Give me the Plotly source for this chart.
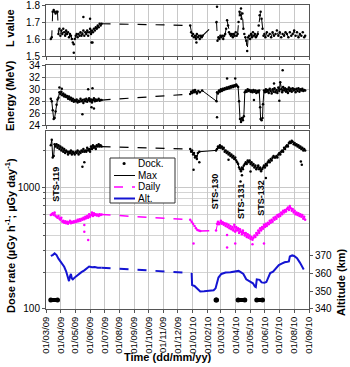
import pandas as pd
import plotly.graph_objects as go

BASE = pd.Timestamp("2009-03-01")

# ---- tick labels (x axis, monthly) ----
MONTH_LABELS = ["01/03/09", "01/04/09", "01/05/09", "01/06/09", "01/07/09", "01/08/09",
                "01/09/09", "01/10/09", "01/11/09", "01/12/09", "01/01/10", "01/02/10",
                "01/03/10", "01/04/10", "01/05/10", "01/06/10", "01/07/10", "01/08/10",
                "01/09/10"]
L_TICKS = [1.5, 1.6, 1.7, 1.8]
E_TICKS = [24, 26, 28, 30, 32, 34]
DOSE_TICKS = [100, 1000]
ALT_TICKS = [340, 350, 360, 370]

# ---- L value (day offset from 01/03/09, value) ----
L_A = [(10,1.60),(12,1.61),(14,1.76),(16,1.77),(18,1.76),(20,1.75),(22,1.76),(24,1.76),(26,1.63),
       (28,1.66),(30,1.62),(32,1.65),(34,1.63),(36,1.66),(38,1.64),(40,1.62),(42,1.65),(44,1.63),
       (46,1.64),(48,1.61),(50,1.63),(52,1.62),(54,1.60),(56,1.58),(58,1.57),(60,1.60),(62,1.62),
       (64,1.63),(66,1.61),(68,1.63),(70,1.62),(72,1.64),(74,1.62),(76,1.63),(78,1.65),(80,1.62),
       (82,1.64),(84,1.63),(86,1.65),(88,1.62),(90,1.64),(92,1.66),(94,1.63),(96,1.65),(98,1.64),
       (100,1.66),(102,1.65),(104,1.67),(106,1.66),(108,1.68),(110,1.67),(112,1.69),(114,1.68),(116,1.69)]
L_B = [(301,1.68),(303,1.64),(305,1.62),(307,1.63),(309,1.61),(311,1.62),(313,1.60),(315,1.63),
       (317,1.61),(319,1.62),(321,1.60),(323,1.62),(325,1.61),(327,1.62)]
L_C = [(356,1.70),(358,1.59),(360,1.61),(362,1.60),(364,1.62),(366,1.61),(368,1.62),(370,1.60),
       (372,1.62),(374,1.63),(376,1.66),(378,1.71),(380,1.68),(382,1.64),(384,1.63),(386,1.62),
       (388,1.63),(390,1.61),(392,1.63),(394,1.62),(396,1.64),(398,1.62),(400,1.63),(402,1.70),
       (404,1.76),(406,1.74),(407,1.78),(408,1.72),(410,1.75),(412,1.66),(414,1.63),(416,1.61),
       (418,1.59),(420,1.53),(422,1.61),(424,1.62),(426,1.60),(428,1.63),(430,1.61),(432,1.64),
       (434,1.62),(436,1.63),(438,1.61),(440,1.62),(442,1.63),(444,1.68),(446,1.74),(448,1.76),
       (450,1.72),(452,1.66),(454,1.62),(456,1.63),(458,1.61),(461,1.64),(464,1.62),(467,1.63),
       (470,1.61),(473,1.64),(476,1.62),(479,1.63),(482,1.65),(485,1.62),(488,1.64),(491,1.61),
       (494,1.63),(497,1.62),(500,1.64),(503,1.63),(506,1.61),(509,1.64),(512,1.62),(515,1.63),
       (518,1.65),(521,1.62),(524,1.64),(527,1.61),(530,1.63),(533,1.62),(536,1.64),(539,1.61),(541,1.62)]
L_OUT = [(58,1.52),(78,1.73),(92,1.72),(95,1.58),(97,1.58),(357,1.79),(314,1.58)]

# ---- Energy (MeV) ----
E_A = [(10,28.4),(12,28.0),(14,26.5),(16,25.0),(18,25.2),(20,26.3),(22,27.4),(24,28.3),(26,28.6),
       (28,29.5),(30,29.2),(32,29.6),(34,29.0),(36,29.3),(38,28.8),(40,29.1),(42,28.7),(44,28.9),
       (46,28.4),(48,28.8),(50,28.3),(52,28.6),(54,28.1),(56,28.4),(58,27.9),(60,28.2),(62,28.0),
       (64,28.3),(66,27.8),(68,28.1),(70,27.9),(72,28.4),(74,28.0),(76,28.2),(78,27.7),(80,28.3),
       (82,28.0),(84,28.4),(86,27.9),(88,28.2),(90,28.5),(92,28.0),(94,28.3),(96,27.8),(98,28.2),
       (100,28.5),(102,28.0),(104,28.3),(106,28.1),(108,28.2),(110,28.4),(112,28.1),(114,28.2),(116,28.2)]
E_BC = [(301,29.2),(303,29.6),(305,29.4),(307,29.8),(309,29.5),(311,29.9),(313,29.6),(315,29.3),
        (318,29.7),(321,29.5),(326,29.8),(356,28.0),
        (357,29.5),(359,29.3),(361,29.8),(363,29.6),(365,30.0),(367,29.7),(369,30.1),(371,29.9),
        (373,30.2),(375,30.0),(377,30.3),(379,30.1),(381,30.4),(383,30.2),(385,30.5),(387,30.3),
        (389,30.6),(391,30.4),(393,30.7),(395,30.5),(397,30.8),(399,30.6),(401,30.4),(403,28.0),
        (405,25.0),(407,24.5),(409,25.2),(411,24.8),(413,25.5),(415,29.5),(417,29.8),(419,29.6),
        (421,30.0),(423,29.7),(425,29.9),(427,29.6),(429,29.8),(431,29.5),(433,29.9),(435,29.6),
        (437,29.8),(439,29.4),(441,29.7),(443,29.5),(445,29.8),(447,27.0),(448,25.0),(450,24.8),
        (452,25.2),(453,27.5),(455,29.8),(457,29.5),(459,30.0),(461,29.6),(463,29.9),(465,29.4),
        (467,30.1),(469,29.7),(471,29.3),(473,30.0),(475,29.6),(477,30.2),(479,29.5),(481,29.9),
        (483,29.4),(485,30.3),(487,29.7),(489,31.2),(491,30.0),(493,29.5),(495,30.4),(497,29.8),
        (499,30.2),(501,29.6),(503,30.0),(505,29.4),(507,30.3),(509,29.7),(511,30.1),(513,29.6),
        (515,30.2),(517,29.8),(519,30.0),(521,29.5),(523,30.1),(525,29.7),(527,30.2),(529,29.6),
        (531,30.0),(533,29.8),(535,30.1),(537,29.7),(539,29.9),(541,29.8)]
E_OUT = [(28,30.3),(33,30.1),(76,25.8),(88,30.0),(97,30.2),(95,27.0),(100,26.8),(357,25.3),
         (378,31.8),(395,31.8),(434,28.2),(476,31.0),(487,28.1),(494,33.2)]

# ---- Dose rate: Max (uGy/h) ----
MAX_A = [(10,2200),(12,2450),(14,1750),(16,1800),(18,2250),(20,2150),(22,2250),(24,2100),(26,2200),
         (28,2050),(30,2150),(32,2000),(34,2100),(36,1950),(38,2050),(40,1900),(42,2000),(44,1950),
         (46,1850),(48,1950),(50,1900),(52,2000),(54,1850),(56,1950),(58,1900),(60,1850),(62,1950),
         (64,1900),(66,2000),(68,1850),(70,1950),(72,1900),(74,2000),(76,1950),(78,2050),(80,1950),
         (82,2000),(84,1950),(86,2100),(88,2000),(90,2050),(92,1950),(94,2150),(96,2050),(98,2200),
         (100,2100),(102,2150),(104,2050),(106,2200),(108,2150),(110,2250),(112,2150),(114,2200),(116,2150)]
MAX_BC = [(301,2050),(303,1950),(305,2000),(307,1850),(309,1900),(311,1750),(313,1800),(315,1700),
          (317,1900),(320,1950),(355,2000),
          (357,2050),(359,2150),(361,2100),(363,2200),(365,2100),(367,2150),(369,2050),(371,2100),
          (373,1950),(375,2000),(377,1900),(379,1950),(381,1850),(383,1900),(385,1800),(387,1850),
          (389,1750),(391,1800),(393,1700),(395,1750),(397,1650),(399,1600),(401,1550),(403,1450),
          (405,1400),(407,1350),(409,1450),(411,1400),(413,1500),(415,1550),(417,1600),(419,1550),
          (421,1650),(423,1600),(425,1650),(427,1550),(429,1600),(431,1500),(433,1550),(435,1450),
          (437,1500),(439,1400),(441,1450),(443,1500),(445,1400),(447,1450),(449,1350),(451,1400),
          (453,1450),(455,1500),(457,1450),(459,1550),(461,1500),(463,1600),(465,1650),(467,1600),
          (469,1700),(471,1650),(473,1750),(475,1800),(477,1750),(479,1750),(481,1800),(483,1750),
          (485,1850),(487,1900),(489,1850),(491,1950),(493,2000),(495,1950),(497,2100),(499,2050),
          (501,2150),(503,2200),(505,2150),(507,2300),(509,2350),(511,2300),(513,2400),(515,2350),
          (517,2250),(519,2300),(521,2200),(523,2250),(525,2150),(527,2200),(529,2100),(531,2150),
          (533,2050),(535,2100),(537,2000),(539,2050),(541,2000)]
MAX_OUT = [(76,1470),(80,1600),(308,1386),(381,1675),(406,1110),(409,1250),(427,1345),(459,1185),
           (532,1623),(534,1524),(320,1600)]

# ---- Dose rate: Daily (uGy/day) ----
DAILY_A = [(10,590),(12,600),(14,610),(16,590),(18,620),(20,580),(22,570),(24,560),(26,580),(28,550),
           (30,540),(32,560),(34,520),(36,530),(38,510),(40,525),(42,505),(44,520),(46,500),(48,515),
           (50,530),(52,505),(54,520),(56,510),(58,525),(60,515),(62,530),(64,520),(66,540),(68,525),
           (70,545),(72,530),(74,550),(76,540),(78,560),(80,545),(82,570),(84,555),(86,580),(88,560),
           (90,600),(92,570),(94,590),(96,620),(98,580),(100,610),(102,590),(104,600),(106,585),
           (108,595),(110,580),(112,600),(114,590),(116,595)]
DAILY_B = [(301,540),(304,520),(307,500),(310,480),(313,460),(316,445),(319,440),(322,436)]
DAILY_C = [(355,440),(357,500),(359,520),(361,495),(363,510),(365,530),(367,500),(369,515),(371,490),
           (373,505),(375,480),(377,500),(379,470),(381,490),(383,460),(385,480),(387,450),(389,470),
           (391,440),(393,490),(395,430),(397,470),(399,440),(401,460),(403,420),(405,450),(407,430),
           (409,410),(411,440),(413,420),(415,400),(417,420),(419,390),(421,410),(423,385),(425,400),
           (427,375),(429,390),(431,370),(433,385),(435,400),(437,390),(439,420),(441,405),(443,440),
           (445,420),(447,460),(449,440),(451,470),(453,455),(455,490),(457,470),(459,500),(461,480),
           (463,510),(465,495),(467,530),(469,510),(471,540),(473,520),(475,560),(477,540),(479,570),
           (481,550),(483,590),(485,570),(487,600),(489,580),(491,620),(493,600),(495,640),(497,620),
           (499,650),(501,630),(503,660),(505,680),(507,650),(509,700),(511,670),(513,640),(515,660),
           (517,620),(519,640),(521,600),(523,620),(525,590),(527,610),(529,580),(531,600),(533,570),
           (535,590),(537,550),(539,570),(541,540)]
DAILY_OUT = [(80,488),(80,430),(88,368),(308,345),(378,404),(378,320),(395,345),(410,430),(431,340),(455,345)]

# ---- Altitude (km) ----
ALT_A = [(10,369.5),(14,370),(18,371),(22,370),(26,368),(30,366.5),(34,365),(38,363.5),(42,361),
         (46,357.5),(48,355.5),(50,358),(52,359.5),(54,357),(56,356.5),(62,358),(68,359.5),(74,360.5),
         (80,361.5),(86,362.8),(90,363.6),(96,363.2),(102,363.4),(108,363),(116,363)]
ALT_BC = [(304,360),(305,353.3),(310,352.8),(316,351.5),(322,349.8),(330,349.9),(340,350.1),(350,350.4),
          (354,351.5),(357,355),(360,357.5),(366,359.5),(375,360.3),(385,360.5),(395,360.8),(402,361.2),
          (408,360.2),(412,359.5),(418,356.5),(426,355.5),(432,354.3),(436,352.5),(438,352.2),(440,356.5),
          (446,356.2),(450,354.8),(456,354.6),(460,355),(464,357.5),(468,360),(474,360.8),(480,362.5),
          (486,364.4),(492,365.2),(498,366),(504,366.3),(507,366.5),(509,369.2),(514,369.8),(518,369.5),
          (524,368.2),(530,365.8),(535,363.5),(538,362)]

# ---- Docking periods (start day, end day) and marker altitude ----
DOCK = [(10, 24), (355, 356), (401, 415), (440, 452)]
DOCK_ALT = 345

# ---- Shuttle mission labels (text, day, log10 dose) ----
STS = [("STS-119", 21, 3.02), ("STS-130", 353, 2.967), ("STS-131", 407, 2.885), ("STS-132", 448, 2.91)]


def d2t(days):
    return [None if d is None else BASE + pd.Timedelta(days=d) for d in days]


def join(regions):
    xs, ys = [], []
    for i, r in enumerate(regions):
        if i:
            xs.append(None); ys.append(None)
        xs += [p[0] for p in r]; ys += [p[1] for p in r]
    return d2t(xs), ys


def gaps(regions):
    xs, ys = [], []
    for a, b in zip(regions[:-1], regions[1:]):
        if xs:
            xs.append(None); ys.append(None)
        xs += [a[-1][0], b[0][0]]; ys += [a[-1][1], b[0][1]]
    return d2t(xs), ys


FONT = "Liberation Sans, Arial, sans-serif"
MAG = "#ff00ff"
BLUE = "#1414d2"

fig = go.Figure()

def add(x, y, xa, ya, **kw):
    fig.add_trace(go.Scatter(x=x, y=y, xaxis=xa, yaxis=ya, showlegend=False, hoverinfo="skip", **kw))

# L value panel
x, y = join([L_A, L_B, L_C])
add(x, y, "x", "y", mode="lines+markers", line=dict(color="black", width=1, dash="dash"),
    marker=dict(size=2.5, color="black"))
x, y = gaps([L_A, L_B, L_C])
add(x, y, "x", "y", mode="lines", line=dict(color="black", width=1.2, dash="dash"))
add(d2t([p[0] for p in L_OUT]), [p[1] for p in L_OUT], "x", "y", mode="markers",
    marker=dict(size=2.5, color="black"))

# Energy panel
x, y = join([E_A, E_BC])
add(x, y, "x2", "y2", mode="lines+markers", line=dict(color="black", width=1),
    marker=dict(size=2.5, color="black"))
x, y = gaps([E_A, E_BC])
add(x, y, "x2", "y2", mode="lines", line=dict(color="black", width=1.2, dash="dash"))
add(d2t([p[0] for p in E_OUT]), [p[1] for p in E_OUT], "x2", "y2", mode="markers",
    marker=dict(size=2.5, color="black"))

# Dose panel: Max
x, y = join([MAX_A, MAX_BC])
add(x, y, "x3", "y3", mode="lines+markers", line=dict(color="black", width=1),
    marker=dict(size=2.5, color="black"))
x, y = gaps([MAX_A, MAX_BC])
add(x, y, "x3", "y3", mode="lines", line=dict(color="black", width=1.2, dash="dash"))
add(d2t([p[0] for p in MAX_OUT]), [p[1] for p in MAX_OUT], "x3", "y3", mode="markers",
    marker=dict(size=2.5, color="black"))

# Dose panel: Daily
x, y = join([DAILY_A, DAILY_B, DAILY_C])
add(x, y, "x3", "y3", mode="lines+markers", line=dict(color=MAG, width=1),
    marker=dict(size=2.5, color=MAG))
x, y = gaps([DAILY_A, DAILY_B, DAILY_C])
add(x, y, "x3", "y3", mode="lines", line=dict(color=MAG, width=1.5, dash="dash"))
add(d2t([p[0] for p in DAILY_OUT]), [p[1] for p in DAILY_OUT], "x3", "y3", mode="markers",
    marker=dict(size=2.5, color=MAG))

# Altitude
x, y = join([ALT_A, ALT_BC])
add(x, y, "x3", "y4", mode="lines", line=dict(color=BLUE, width=2))
x, y = gaps([ALT_A, ALT_BC])
add(x, y, "x3", "y4", mode="lines", line=dict(color=BLUE, width=2, dash="dash"))

# Docking bars
dx, dy = [], []
for s, e in DOCK:
    if dx:
        dx.append(None); dy.append(None)
    dx += [s, e]; dy += [DOCK_ALT, DOCK_ALT]
add(d2t(dx), dy, "x3", "y4", mode="lines+markers", line=dict(color="black", width=4),
    marker=dict(size=5, color="black"))

tickvals = list(pd.to_datetime(MONTH_LABELS, format="%d/%m/%y"))
xr = [tickvals[0], tickvals[-1]]

common_x = dict(type="date", range=xr, tickvals=tickvals, ticktext=MONTH_LABELS, automargin=False,
                showgrid=True, gridcolor="#c8c8c8", gridwidth=1, showline=True, mirror=True,
                linecolor="#555", linewidth=1, ticks="outside", ticklen=3, tickcolor="#555",
                zeroline=False, ticklabeloverflow="allow")
common_y = dict(showgrid=True, gridcolor="#c8c8c8", showline=True, mirror=True, linecolor="#555",
                linewidth=1, ticks="outside", ticklen=3, tickcolor="#555", zeroline=False,
                automargin=False, ticklabeloverflow="allow",
                tickfont=dict(size=10, color="black", family=FONT))

fig.update_layout(
    width=350, height=367,
    margin=dict(l=46, r=41, t=5, b=58, autoexpand=False),
    paper_bgcolor="white", plot_bgcolor="white",
    font=dict(family=FONT, size=10, color="black"),
    showlegend=False,
    xaxis=dict(common_x, domain=[0, 1], anchor="y", showticklabels=False),
    xaxis2=dict(common_x, domain=[0, 1], anchor="y2", showticklabels=False),
    xaxis3=dict(common_x, domain=[0, 1], anchor="y3", showticklabels=True, tickangle=-90,
                tickfont=dict(size=9.5, color="black", family=FONT)),
    yaxis=dict(common_y, domain=[0.832, 1.0], anchor="x", range=[1.4999, 1.8001],
               tickvals=L_TICKS, ticktext=["%.1f" % v for v in L_TICKS]),
    yaxis2=dict(common_y, domain=[0.605, 0.801], anchor="x2", range=[23.999, 34.001],
                tickvals=E_TICKS),
    yaxis3=dict(common_y, domain=[0, 0.5855], anchor="x3", type="log", range=[2, 3.46],
                tickvals=DOSE_TICKS, ticktext=[str(v) for v in DOSE_TICKS],
                minor=dict(dtick="D1", showgrid=True, gridcolor="#d4d4d4", ticks="outside",
                           ticklen=2, tickcolor="#555")),
    yaxis4=dict(overlaying="y3", side="right", anchor="x3", range=[340, 439], automargin=False,
                tickvals=ALT_TICKS, showgrid=False, showline=False, zeroline=False,
                ticks="outside", ticklen=3, tickcolor="#555", ticklabeloverflow="allow",
                tickfont=dict(size=10, color="black", family=FONT)),
)

def px2paper(px, py):
    return (px - 46) / 263, (309 - py) / 304

ann = []
TF = dict(family=FONT, size=11, color="black")
for text, py, px in [("<b>L value</b>", 28, 10), ("<b>Energy (MeV)</b>", 96, 10),
                     ("<b>Dose rate (µGy h<sup>-1</sup>; µGy day<sup>-1</sup>)</b>", 236, 10)]:
    ax, ay = px2paper(px, py)
    ann.append(dict(text=text, x=ax, y=ay, xref="paper", yref="paper", textangle=-90,
                    showarrow=False, font=TF, xanchor="center", yanchor="middle"))
ax, ay = px2paper(341, 282)
ann.append(dict(text="<b>Altitude (km)</b>", x=ax, y=ay, xref="paper", yref="paper", textangle=-90,
                showarrow=False, font=TF, xanchor="center", yanchor="middle"))
ax, ay = px2paper(168, 357)
ann.append(dict(text="<b>Time (dd/mm/yy)</b>", x=ax, y=ay, xref="paper", yref="paper",
                showarrow=False, font=TF, xanchor="center", yanchor="middle"))
for text, day, ly in STS:
    ann.append(dict(text="<b>%s</b>" % text, x=BASE + pd.Timedelta(days=day), y=ly, xref="x3", yref="y3",
                    textangle=-90, showarrow=False, font=dict(family=FONT, size=9, color="black"),
                    xanchor="center", yanchor="middle"))

# Manual legend
shapes = []
bx0, by0 = px2paper(110, 203)
bx1, by1 = px2paper(175, 158)
shapes.append(dict(type="rect", xref="paper", yref="paper", x0=bx0, y0=by0, x1=bx1, y1=by1,
                   line=dict(color="#333", width=1), fillcolor="white", layer="above"))
entries = [("Dock.", 163.5, None), ("Max", 175.5, dict(color="black", width=1)),
           ("Daily", 187, dict(color=MAG, width=1.5, dash="dash")),
           ("Alt.", 198.5, dict(color=BLUE, width=2))]
for text, py, ln in entries:
    tx, ty = px2paper(136, py)
    ann.append(dict(text=text, x=tx, y=ty, xref="paper", yref="paper", showarrow=False,
                    xanchor="left", yanchor="middle", font=dict(family=FONT, size=10, color="black")))
    if ln is None:
        cx0, cy0 = px2paper(122.5, py + 1.6)
        cx1, cy1 = px2paper(125.7, py - 1.6)
        shapes.append(dict(type="circle", xref="paper", yref="paper", x0=cx0, y0=cy0, x1=cx1, y1=cy1,
                           fillcolor="black", line=dict(color="black", width=0), layer="above"))
    else:
        lx0, ly0 = px2paper(114, py)
        lx1, _ = px2paper(135, py)
        shapes.append(dict(type="line", xref="paper", yref="paper", x0=lx0, y0=ly0, x1=lx1, y1=ly0,
                           line=ln, layer="above"))

fig.update_layout(annotations=ann, shapes=shapes)
fig.write_html("out.html", config={"displayModeBar": False},
               post_script="document.body.style.margin='0';document.body.style.padding='0';")
